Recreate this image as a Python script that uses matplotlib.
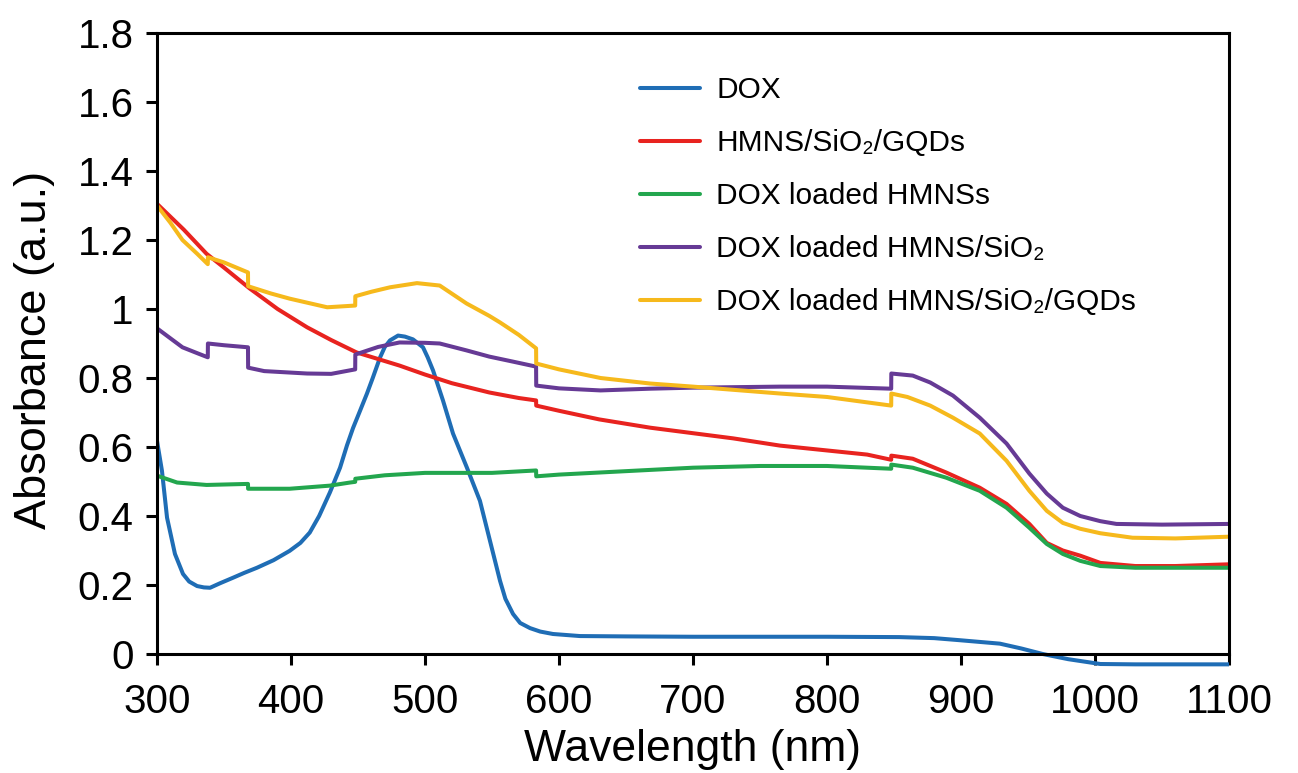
import matplotlib
matplotlib.use("Agg")
import matplotlib.pyplot as plt
from matplotlib.ticker import FuncFormatter

plt.rcParams['font.family'] = ['Liberation Sans', 'DejaVu Sans']

# ---- data ----
dox_x = [300, 303.7, 307.5, 313.4, 319.4, 324, 329.9, 335, 339.6, 347, 356.7, 365, 374.6, 387, 399,
         407, 414, 421, 429, 436.6, 441.8, 446.3, 451, 456.7, 461, 466.4, 470, 473.9, 479.9, 485, 491,
         498.5, 502, 506, 513.4, 520.9, 531.3, 541, 548.5, 556, 560, 565.7, 571, 578.4, 586, 595.5,
         615.7, 650, 700, 750, 800, 854, 880, 899, 929, 945, 961, 980, 1004, 1030, 1060, 1100]
dox_y = [0.618, 0.531, 0.395, 0.29, 0.232, 0.21, 0.197, 0.193, 0.192, 0.205, 0.221, 0.235, 0.25,
         0.272, 0.299, 0.322, 0.352, 0.40, 0.468, 0.54, 0.605, 0.655, 0.70, 0.755, 0.80, 0.859,
         0.89, 0.909, 0.923, 0.92, 0.912, 0.889, 0.86, 0.822, 0.735, 0.639, 0.54, 0.444, 0.328, 0.212,
         0.16, 0.116, 0.09, 0.075, 0.065, 0.058, 0.052, 0.051, 0.05, 0.05, 0.05, 0.049, 0.046, 0.04,
         0.03, 0.016, 0.0, -0.015, -0.029, -0.03, -0.03, -0.03]

red_x = [300, 320, 337, 350, 369, 390, 412, 430, 449, 465, 481, 500, 520, 548, 570, 582.9, 583, 600,
         630, 668, 700, 730, 765, 800, 830, 847.9, 848, 864, 889, 914, 934, 951, 964, 976, 989, 1004,
         1030, 1060, 1100]
red_y = [1.305, 1.23, 1.16, 1.12, 1.06, 1.00, 0.947, 0.91, 0.874, 0.855, 0.836, 0.81, 0.785, 0.758,
         0.742, 0.735, 0.72, 0.705, 0.68, 0.656, 0.64, 0.625, 0.604, 0.59, 0.578, 0.563, 0.575, 0.566,
         0.526, 0.482, 0.435, 0.377, 0.322, 0.30, 0.285, 0.264, 0.255, 0.255, 0.26]

green_x = [300, 315, 337, 367.9, 368, 399, 429, 444, 447.9, 448, 470, 500, 550, 582.9, 583, 600, 650,
           700, 750, 800, 847.9, 848, 864, 889, 914, 934, 951, 964, 976, 989, 1004, 1030, 1060, 1100]
green_y = [0.517, 0.497, 0.49, 0.493, 0.479, 0.479, 0.488, 0.497, 0.499, 0.508, 0.518, 0.525, 0.525,
           0.532, 0.515, 0.52, 0.53, 0.54, 0.545, 0.545, 0.537, 0.549, 0.54, 0.511, 0.473, 0.424,
           0.366, 0.319, 0.29, 0.27, 0.255, 0.25, 0.25, 0.25]

purple_x = [300, 310, 319, 330, 337.9, 338, 350, 367.9, 368, 380, 412, 430, 447.9, 448, 465, 481, 500,
            511, 531, 548, 565, 582.9, 583, 600, 631, 668, 700, 765, 800, 847.9, 848, 864, 877, 894,
            914, 934, 951, 964, 976, 989, 1004, 1016, 1050, 1100]
purple_y = [0.944, 0.915, 0.889, 0.872, 0.86, 0.90, 0.895, 0.889, 0.83, 0.82, 0.813, 0.812, 0.825,
            0.868, 0.89, 0.903, 0.902, 0.90, 0.88, 0.862, 0.848, 0.833, 0.778, 0.77, 0.764, 0.769,
            0.772, 0.775, 0.775, 0.769, 0.813, 0.807, 0.787, 0.749, 0.685, 0.61, 0.523, 0.465, 0.424,
            0.40, 0.385, 0.377, 0.375, 0.377]

yellow_x = [300, 310, 319, 330, 337.9, 338, 350, 367.9, 368, 385, 399, 427, 447.9, 448, 460, 474, 494,
            511, 531, 548, 556, 570, 582.9, 583, 600, 631, 668, 700, 765, 800, 847.9, 848, 860, 877,
            894, 914, 934, 951, 964, 976, 989, 1004, 1028, 1060, 1100]
yellow_y = [1.30, 1.25, 1.20, 1.16, 1.13, 1.15, 1.135, 1.106, 1.066, 1.045, 1.03, 1.005, 1.01, 1.037,
            1.05, 1.063, 1.075, 1.068, 1.016, 0.98, 0.961, 0.925, 0.886, 0.842, 0.825, 0.80, 0.784,
            0.775, 0.755, 0.745, 0.72, 0.755, 0.745, 0.72, 0.685, 0.639, 0.56, 0.473, 0.415, 0.38,
            0.363, 0.35, 0.337, 0.335, 0.34]

labels = ["DOX", "HMNS/SiO\u2082/GQDs", "DOX loaded HMNSs", "DOX loaded HMNS/SiO\u2082",
          "DOX loaded HMNS/SiO\u2082/GQDs"]
colors = ["#1f6db5", "#e8231f", "#23a64e", "#663a95", "#f6b91c"]
x_ticks = [300, 400, 500, 600, 700, 800, 900, 1000, 1100]
y_ticks = [0, 0.2, 0.4, 0.6, 0.8, 1.0, 1.2, 1.4, 1.6, 1.8]

# ---- figure ----
fig = plt.figure(figsize=(12.98, 7.73), dpi=100)
W, H = 1298, 773
ax = fig.add_axes([157 / W, 1 - 667.8 / H, (1229 - 157) / W, (667.8 - 33) / H])

series = [(dox_x, dox_y), (red_x, red_y), (green_x, green_y), (purple_x, purple_y), (yellow_x, yellow_y)]
for (sx, sy), c, lab in zip(series, colors, labels):
    ax.plot(sx, sy, color=c, lw=2.9, label=lab, solid_joinstyle='round', solid_capstyle='round')

ax.set_xlim(300, 1100)
ax.set_ylim(-0.04, 1.8)
ax.set_xticks(x_ticks)
ax.set_yticks(y_ticks)
ax.yaxis.set_major_formatter(FuncFormatter(lambda v, p: f"{v:g}"))

ax.spines['bottom'].set_position(('data', 0))
for s in ['left', 'right']:
    ax.spines[s].set_bounds(0, 1.8)
for s in ax.spines.values():
    s.set_linewidth(2.2)

ax.tick_params(axis='both', direction='out', length=8, width=2.2, labelsize=29)
ax.tick_params(axis='x', pad=13)
ax.tick_params(axis='y', pad=9)

ax.set_xlabel("Wavelength (nm)", fontsize=32, labelpad=6)
ax.set_ylabel("Absorbance (a.u.)", fontsize=32.5, labelpad=16)

leg = ax.legend(loc='upper left', bbox_to_anchor=(640 / W, 1 - 76 / H), bbox_transform=fig.transFigure,
                frameon=False, fontsize=21.5, handlelength=2.0, handletextpad=0.56, labelspacing=0.84,
                borderpad=0, borderaxespad=0)

fig.savefig("out.png", dpi=100)
